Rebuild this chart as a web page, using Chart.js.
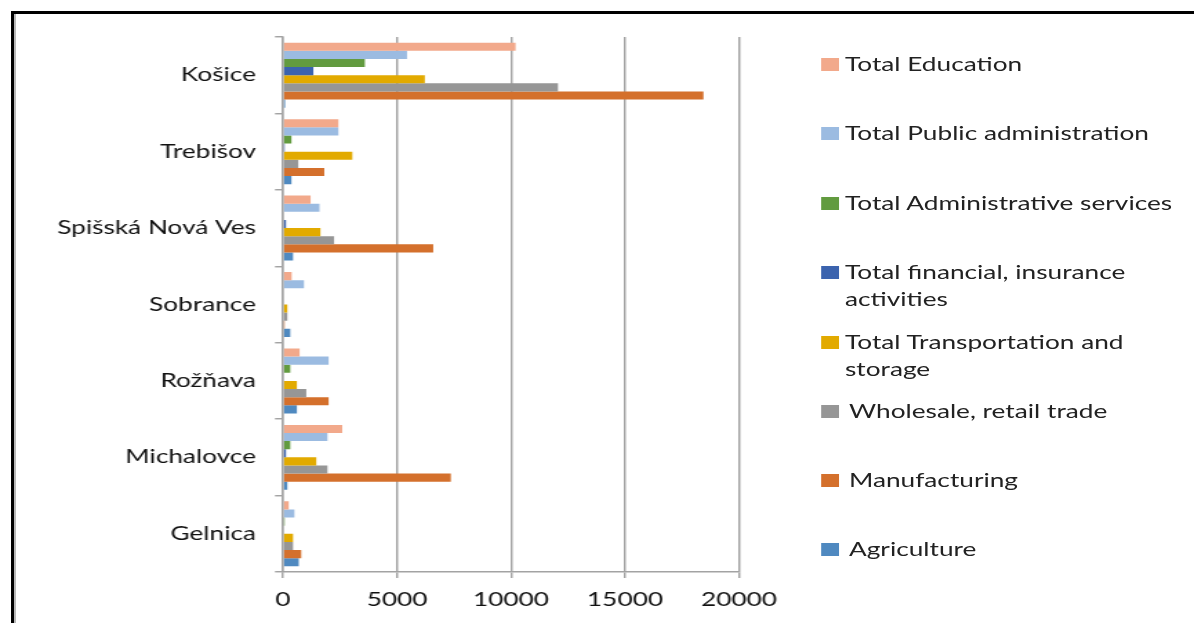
<!DOCTYPE html>
<html>
<head>
<meta charset="utf-8">
<script src="https://cdn.jsdelivr.net/npm/chart.js@4.4.1/dist/chart.umd.min.js"></script>
<style>
  html, body { margin: 0; padding: 0; background: #fff; overflow: hidden; }
  body { width: 1194px; height: 623px; position: relative; font-family: Lato, sans-serif; }
  /* the reference picture is stretched sideways, so the chart is drawn narrow and scaled */
  #stage { position: absolute; left: 0; top: 0; height: 623px; transform-origin: 0 0; }
  #chart { position: absolute; left: 0; top: 0; }
  #frame { position: absolute; left: 11px; top: 11px; width: 1300px; height: 700px;
           border-left: 3px solid #000; border-top: 3px solid #000; }
  #frame::before { content: ''; position: absolute; left: 0; top: 0; width: 2px; height: 100%; background: #b8b8b8; }
  .legend { position: absolute; top: 0; font-size: 19px; color: #222; line-height: 27px; }
  .legend .item { position: absolute; left: 0; white-space: nowrap; }
  .legend .key { position: absolute; left: 0; top: 8px; width: 13px; height: 13px; }
  .legend .txt { position: absolute; top: 0; }
</style>
</head>
<body>
<div id="frame"></div>
<div id="stage">
  <canvas id="chart"></canvas>
  <div class="legend" id="legend"></div>
</div>
<script>
// ── DATA ────────────────────────────────────────────────────
const districts = ['Košice', 'Trebišov', 'Spišská Nová Ves', 'Sobrance', 'Rožňava', 'Michalovce', 'Gelnica'];

const education      = [10200, 2430, 1210, 380, 730, 2600, 250];
const publicAdmin    = [5440, 2430, 1600, 920, 2000, 1950, 500];
const adminServices  = [3590, 370, 0, 0, 320, 320, 70];
const financial      = [1330, 70, 130, 0, 0, 130, 0];
const transportation = [6220, 3040, 1640, 190, 610, 1460, 440];
const wholesale      = [12060, 670, 2240, 190, 1020, 1950, 440];
const manufacturing  = [18440, 1810, 6590, 70, 2000, 7360, 800];
const agriculture    = [90, 370, 440, 320, 610, 190, 690];

const xTicks = [0, 5000, 10000, 15000, 20000];

// ── SERIES ──────────────────────────────────────────────────
const series = [
  { label: 'Total Education',                          data: education,      color: '#f2a98b', top: 50,  indent: 0 },
  { label: 'Total Public administration',              data: publicAdmin,    color: '#9bbbe1', top: 119, indent: 0 },
  { label: 'Total Administrative services',            data: adminServices,  color: '#629b3f', top: 189, indent: 0 },
  { label: 'Total financial, insurance<br>activities', data: financial,      color: '#3b63ae', top: 258, indent: 0 },
  { label: 'Total Transportation and<br>storage',      data: transportation, color: '#e2aa00', top: 328, indent: 0 },
  { label: 'Wholesale, retail trade',                  data: wholesale,      color: '#969696', top: 397, indent: 4 },
  { label: 'Manufacturing',                            data: manufacturing,  color: '#d4702c', top: 466, indent: 4 },
  { label: 'Agriculture',                              data: agriculture,    color: '#4f89c0', top: 535, indent: 4 },
];

// ── LAYOUT (page pixels, divided by the stretch) ────────────
const S = 1.38;
const W = 1194 / S;
const PLOT_LEFT = 283 / S, PLOT_RIGHT = 739 / S, PLOT_TOP = 37, PLOT_BOTTOM = 572;

const stage = document.getElementById('stage');
stage.style.width = W + 'px';
stage.style.transform = `scaleX(${S})`;
const canvas = document.getElementById('chart');
canvas.width = Math.round(W);
canvas.height = 623;

// ── LEGEND ──────────────────────────────────────────────────
const legend = document.getElementById('legend');
legend.style.left = (821 / S) + 'px';
series.forEach(s => {
  const item = document.createElement('div');
  item.className = 'item';
  item.style.top = s.top + 'px';
  item.innerHTML = `<span class="key" style="background:${s.color}"></span>` +
                   `<span class="txt" style="left:${(24 + s.indent) / S}px">${s.label}</span>`;
  legend.appendChild(item);
});

// ── CHART ───────────────────────────────────────────────────
const FONT = { family: 'Lato, sans-serif', size: 19 };
const axisGrey = '#a3a3a3';

new Chart(canvas, {
  type: 'bar',
  data: {
    labels: districts,
    datasets: series.map(s => ({
      label: s.label,
      data: s.data,
      backgroundColor: s.color,
      borderWidth: 0,
      barPercentage: 1,
      categoryPercentage: 0.85,
    }))
  },
  options: {
    indexAxis: 'y',
    responsive: false,
    animation: false,
    layout: { padding: { left: 0, top: PLOT_TOP, right: Math.round(W) - PLOT_RIGHT, bottom: 0 } },
    plugins: { legend: { display: false }, tooltip: { enabled: false } },
    scales: {
      x: {
        min: 0, max: 20000,
        afterBuildTicks: scale => { scale.ticks = xTicks.map(v => ({ value: v })); },
        afterFit: scale => { scale.height = 623 - PLOT_BOTTOM; },
        grid: { color: axisGrey, lineWidth: 1.45, drawTicks: true, tickLength: 6 },
        border: { color: axisGrey, width: 1.45 },
        ticks: { color: '#111', font: FONT, padding: 10, maxRotation: 0, callback: v => String(v) },
      },
      y: {
        offset: true,
        afterFit: scale => { scale.width = PLOT_LEFT; },
        grid: { offset: true, drawOnChartArea: false, drawTicks: true, tickLength: 8 / S, color: axisGrey, lineWidth: 1.45 },
        border: { color: axisGrey, width: 1.45 },
        ticks: { color: '#111', font: FONT, padding: 13.8 },
      }
    }
  }
});
</script>
</body>
</html>
